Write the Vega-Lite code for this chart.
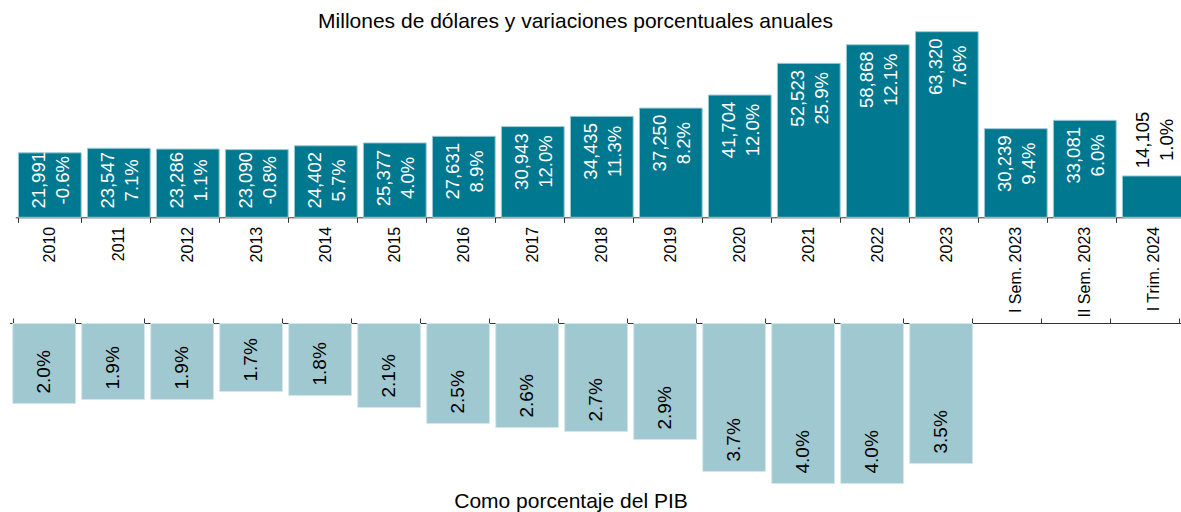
{
  "$schema": "https://vega.github.io/schema/vega-lite/v6.json",
  "width": 1181,
  "height": 512,
  "autosize": {"type": "none"},
  "padding": 0,
  "background": "white",
  "config": {
    "font": "Liberation Sans",
    "view": {"stroke": null},
    "locale": {"number": {"decimal": ".", "thousands": ",", "grouping": [3], "currency": ["$", ""], "minus": "-"}}
  },
  "title": {
    "text": "Millones de dólares y variaciones porcentuales anuales",
    "fontSize": 21,
    "fontWeight": "normal",
    "color": "#000000",
    "anchor": "middle",
    "frame": "group",
    "offset": -32,
    "dx": -15
  },
  "data": {
    "values": [
      {"periodo": "2010", "valor": 21991, "variacion": -0.006, "pib": 0.020},
      {"periodo": "2011", "valor": 23547, "variacion": 0.071, "pib": 0.019},
      {"periodo": "2012", "valor": 23286, "variacion": 0.011, "pib": 0.019},
      {"periodo": "2013", "valor": 23090, "variacion": -0.008, "pib": 0.017},
      {"periodo": "2014", "valor": 24402, "variacion": 0.057, "pib": 0.018},
      {"periodo": "2015", "valor": 25377, "variacion": 0.040, "pib": 0.021},
      {"periodo": "2016", "valor": 27631, "variacion": 0.089, "pib": 0.025},
      {"periodo": "2017", "valor": 30943, "variacion": 0.120, "pib": 0.026},
      {"periodo": "2018", "valor": 34435, "variacion": 0.113, "pib": 0.027},
      {"periodo": "2019", "valor": 37250, "variacion": 0.082, "pib": 0.029},
      {"periodo": "2020", "valor": 41704, "variacion": 0.120, "pib": 0.037},
      {"periodo": "2021", "valor": 52523, "variacion": 0.259, "pib": 0.040},
      {"periodo": "2022", "valor": 58868, "variacion": 0.121, "pib": 0.040},
      {"periodo": "2023", "valor": 63320, "variacion": 0.076, "pib": 0.035},
      {"periodo": "I Sem. 2023", "valor": 30239, "variacion": 0.094, "pib": null},
      {"periodo": "II Sem. 2023", "valor": 33081, "variacion": 0.060, "pib": null},
      {"periodo": "I Trim. 2024", "valor": 14105, "variacion": 0.010, "pib": null}
    ]
  },
  "layer": [
    {
      "encoding": {
        "x": {
          "field": "periodo",
          "type": "nominal",
          "sort": null,
          "scale": {
            "domain": ["2010", "2011", "2012", "2013", "2014", "2015", "2016", "2017", "2018", "2019", "2020", "2021", "2022", "2023", "I Sem. 2023", "II Sem. 2023", "I Trim. 2024"],
            "range": [15.3, 1188.3],
            "paddingInner": 0.09,
            "paddingOuter": 0.045
          },
          "axis": {
            "orient": "bottom",
            "offset": -294.7,
            "title": null,
            "tickBand": "extent",
            "tickSize": 5,
            "tickColor": "#333333",
            "domainColor": "#333333",
            "labelAngle": 270,
            "labelFontSize": 16,
            "labelColor": "#000000",
            "labelPadding": 4,
            "labelOverlap": false
          }
        }
      },
      "layer": [
        {
          "mark": {"type": "bar", "color": "#00788F", "stroke": "#9fcad4", "strokeWidth": 1},
          "encoding": {
            "y": {"field": "valor", "type": "quantitative", "scale": {"domain": [0, 70000], "range": [217.3, 12.1]}, "axis": null}
          }
        },
        {
          "transform": [{"filter": "datum.valor >= 25000"}],
          "mark": {"type": "text", "angle": 270, "align": "center", "baseline": "middle", "dx": -35, "dy": -11, "fontSize": 18.5, "color": "white"},
          "encoding": {
            "y": {"field": "valor", "type": "quantitative"},
            "text": {"field": "valor", "type": "quantitative", "format": ",d"}
          }
        },
        {
          "transform": [{"filter": "datum.valor >= 25000"}],
          "mark": {"type": "text", "angle": 270, "align": "center", "baseline": "middle", "dx": -35, "dy": 13, "fontSize": 18.5, "color": "white"},
          "encoding": {
            "y": {"field": "valor", "type": "quantitative"},
            "text": {"field": "variacion", "type": "quantitative", "format": ".1%"}
          }
        },
        {
          "transform": [{"filter": "datum.valor >= 20000 && datum.valor < 25000"}],
          "mark": {"type": "text", "angle": 270, "align": "center", "baseline": "middle", "dx": 37, "dy": -11, "fontSize": 18.5, "color": "white"},
          "encoding": {
            "y": {"datum": 0, "type": "quantitative"},
            "text": {"field": "valor", "type": "quantitative", "format": ",d"}
          }
        },
        {
          "transform": [{"filter": "datum.valor >= 20000 && datum.valor < 25000"}],
          "mark": {"type": "text", "angle": 270, "align": "center", "baseline": "middle", "dx": 37, "dy": 13, "fontSize": 18.5, "color": "white"},
          "encoding": {
            "y": {"datum": 0, "type": "quantitative"},
            "text": {"field": "variacion", "type": "quantitative", "format": ".1%"}
          }
        },
        {
          "transform": [{"filter": "datum.valor < 20000"}],
          "mark": {"type": "text", "angle": 270, "align": "center", "baseline": "middle", "dx": 36, "dy": -11, "fontSize": 18.5, "color": "black"},
          "encoding": {
            "y": {"field": "valor", "type": "quantitative"},
            "text": {"field": "valor", "type": "quantitative", "format": ",d"}
          }
        },
        {
          "transform": [{"filter": "datum.valor < 20000"}],
          "mark": {"type": "text", "angle": 270, "align": "center", "baseline": "middle", "dx": 36, "dy": 13, "fontSize": 18.5, "color": "black"},
          "encoding": {
            "y": {"field": "valor", "type": "quantitative"},
            "text": {"field": "variacion", "type": "quantitative", "format": ".1%"}
          }
        }
      ]
    },
    {
      "encoding": {
        "x": {
          "field": "periodo",
          "type": "nominal",
          "sort": null,
          "scale": {
            "domain": ["2010", "2011", "2012", "2013", "2014", "2015", "2016", "2017", "2018", "2019", "2020", "2021", "2022", "2023", "I Sem. 2023", "II Sem. 2023", "I Trim. 2024"],
            "range": [9.6, 1182.6],
            "paddingInner": 0.09,
            "paddingOuter": 0.045
          },
          "axis": {
            "orient": "top",
            "offset": -323,
            "labels": false,
            "tickBand": "extent",
            "tickSize": 5,
            "tickColor": "#333333",
            "domainColor": "#333333",
            "title": "Como porcentaje del PIB",
            "titleX": 570.5,
            "titleY": 184,
            "titleAlign": "center",
            "titleBaseline": "alphabetic",
            "titleAngle": 0,
            "titleFontSize": 21,
            "titleFontWeight": "normal",
            "titleColor": "#000000"
          }
        },
        "y": {"field": "pib", "type": "quantitative", "scale": {"domain": [0, 0.04], "range": [323.5, 483.5]}, "axis": null}
      },
      "layer": [
        {
          "mark": {"type": "bar", "color": "#9FC8D0", "stroke": "#d3e7eb", "strokeWidth": 1}
        },
        {
          "mark": {"type": "text", "angle": 270, "align": "left", "baseline": "middle", "dx": 10, "fontSize": 19, "color": "black"},
          "encoding": {
            "text": {"field": "pib", "type": "quantitative", "format": ".1%"}
          }
        }
      ]
    }
  ],
  "resolve": {
    "scale": {"x": "independent", "y": "independent"},
    "axis": {"x": "independent", "y": "independent"}
  }
}
